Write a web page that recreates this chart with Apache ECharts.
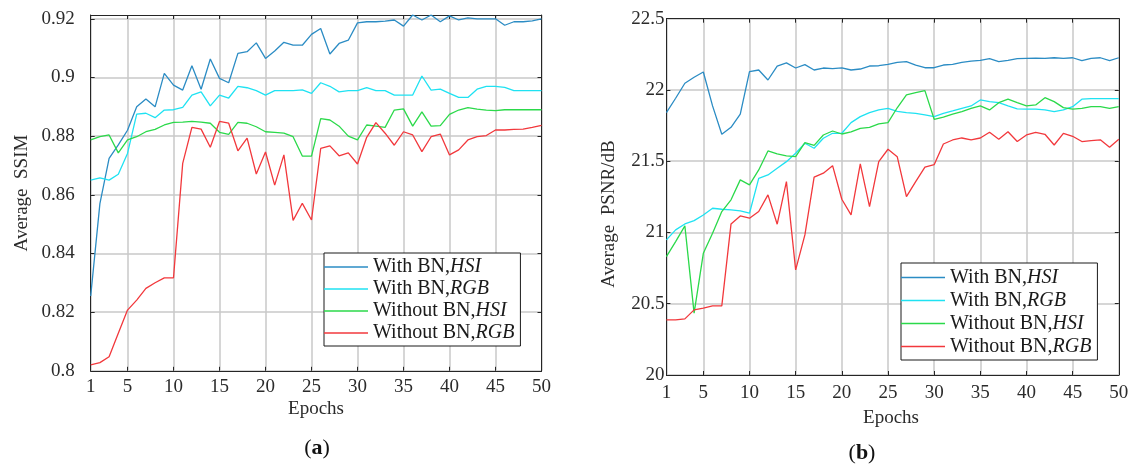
<!DOCTYPE html>
<html lang="en" style="height: 100%">
<head>
  <meta charset="utf-8">
</head>
<body style="height: 100%; margin: 0; background: #fff">
  <div id="container" style="width: 1136px; height: 464px"></div>

  <script type="text/javascript" src="https://cdn.jsdelivr.net/npm/echarts@6/dist/echarts.min.js"></script>
  <script type="text/javascript">
    // epochs and tick values
    var epochs = [];
    for (var e = 1; e <= 50; e++) epochs.push(e);
    var epochTicks = [1, 5, 10, 15, 20, 25, 30, 35, 40, 45, 50];
    var ssimTicks = [0.8, 0.82, 0.84, 0.86, 0.88, 0.9, 0.92];
    var psnrTicks = [20, 20.5, 21, 21.5, 22, 22.5];

    var seriesNames = ['With BN,HSI', 'With BN,RGB', 'Without BN,HSI', 'Without BN,RGB'];
    var seriesColors = ['#2b8cc4', '#1fe2f2', '#2bd94a', '#f2383c'];

    // (a) average SSIM
    var ssimBnHsi = [0.8255, 0.857, 0.8724, 0.877, 0.882, 0.890, 0.8927, 0.890, 0.9014, 0.8974,
      0.8957, 0.904, 0.896, 0.9063, 0.8997, 0.8982, 0.9082, 0.9088, 0.9118, 0.9065,
      0.909, 0.912, 0.911, 0.911, 0.9147, 0.9167, 0.908, 0.9116, 0.9127, 0.9186,
      0.919, 0.919, 0.9192, 0.9196, 0.9175, 0.9213, 0.9196, 0.9213, 0.919, 0.921,
      0.9196, 0.9203, 0.92, 0.92, 0.92, 0.9178, 0.919, 0.919, 0.9193, 0.920];
    var ssimBnRgb = [0.865, 0.8658, 0.865, 0.867, 0.8741, 0.8875, 0.8878, 0.8863, 0.8889, 0.889,
      0.8898, 0.894, 0.8951, 0.8903, 0.894, 0.893, 0.897, 0.8965, 0.8955, 0.894,
      0.8955, 0.8955, 0.8955, 0.8958, 0.8946, 0.8982, 0.897, 0.8951, 0.8955, 0.8955,
      0.8965, 0.8955, 0.8955, 0.894, 0.894, 0.894, 0.9005, 0.8957, 0.896, 0.8946,
      0.8932, 0.8932, 0.896, 0.897, 0.897, 0.8966, 0.8955, 0.8955, 0.8955, 0.8955];
    var ssimNoBnHsi = [0.8787, 0.8798, 0.8804, 0.8743, 0.8787, 0.8798, 0.8815, 0.8823, 0.8838, 0.8847,
      0.8848, 0.885, 0.8848, 0.8844, 0.8813, 0.8806, 0.8847, 0.8844, 0.8832, 0.8815,
      0.8813, 0.881, 0.8798, 0.8732, 0.8732, 0.886, 0.8855, 0.8834, 0.88, 0.8787,
      0.8838, 0.8834, 0.883, 0.8889, 0.8893, 0.8834, 0.8883, 0.8834, 0.8836, 0.8874,
      0.8889, 0.8897, 0.8892, 0.8889, 0.8887, 0.889, 0.889, 0.889, 0.889, 0.889];
    var ssimNoBnRgb = [0.802, 0.8028, 0.8048, 0.8128, 0.8207, 0.8241, 0.8281, 0.830, 0.8317, 0.8317,
      0.8707, 0.883, 0.8824, 0.8762, 0.885, 0.8844, 0.875, 0.8793, 0.8671, 0.8746,
      0.8633, 0.8736, 0.8513, 0.8571, 0.8514, 0.8758, 0.8767, 0.8733, 0.8743, 0.8705,
      0.8796, 0.8846, 0.881, 0.8769, 0.8815, 0.8804, 0.8747, 0.8798, 0.8807, 0.8736,
      0.8753, 0.8787, 0.8798, 0.8802, 0.8821, 0.8821, 0.8823, 0.8824, 0.883, 0.8837];

    // (b) average PSNR/dB
    var psnrBnHsi = [21.841, 21.942, 22.047, 22.089, 22.126, 21.888, 21.689, 21.738, 21.83, 22.128,
      22.14, 22.07, 22.168, 22.19, 22.154, 22.178, 22.14, 22.154, 22.15, 22.155,
      22.14, 22.147, 22.168, 22.17, 22.18, 22.194, 22.199, 22.175, 22.156, 22.156,
      22.175, 22.18, 22.194, 22.203, 22.208, 22.22, 22.199, 22.208, 22.22, 22.222,
      22.224, 22.222, 22.226, 22.222, 22.226, 22.206, 22.222, 22.226, 22.206, 22.226];
    var psnrBnRgb = [20.948, 21.018, 21.06, 21.083, 21.123, 21.17, 21.163, 21.158, 21.151, 21.135,
      21.38, 21.404, 21.451, 21.497, 21.556, 21.626, 21.591, 21.661, 21.696, 21.696,
      21.771, 21.813, 21.841, 21.86, 21.871, 21.85, 21.841, 21.836, 21.825, 21.813,
      21.836, 21.853, 21.871, 21.888, 21.93, 21.918, 21.911, 21.888, 21.867, 21.865,
      21.865, 21.86, 21.848, 21.86, 21.883, 21.935, 21.939, 21.939, 21.939, 21.939];
    var psnrNoBnHsi = [20.831, 20.936, 21.046, 20.434, 20.854, 20.995, 21.147, 21.229, 21.369, 21.334,
      21.439, 21.572, 21.551, 21.537, 21.532, 21.63, 21.611, 21.684, 21.712, 21.691,
      21.706, 21.731, 21.738, 21.762, 21.771, 21.875, 21.965, 21.981, 21.995, 21.794,
      21.81, 21.83, 21.848, 21.871, 21.888, 21.86, 21.911, 21.935, 21.911, 21.888,
      21.895, 21.946, 21.918, 21.876, 21.865, 21.871, 21.883, 21.883, 21.871, 21.883];
    var psnrNoBnRgb = [20.387, 20.387, 20.394, 20.457, 20.469, 20.485, 20.485, 21.06, 21.116, 21.1,
      21.147, 21.264, 21.058, 21.357, 20.738, 20.983, 21.388, 21.416, 21.469, 21.233,
      21.123, 21.481, 21.182, 21.497, 21.584, 21.532, 21.252, 21.357, 21.458, 21.476,
      21.621, 21.649, 21.663, 21.65, 21.663, 21.703, 21.654, 21.707, 21.638, 21.684,
      21.703, 21.689, 21.614, 21.696, 21.675, 21.638, 21.645, 21.65, 21.598, 21.654];

    var FONT = '"Liberation Serif", "DejaVu Serif", serif';
    var TXT = '#2b2b2b';

    var dom = document.getElementById('container');
    var myChart = echarts.init(dom, null, { renderer: 'canvas' });

    function pairs(vals) {
      return epochs.map(function (ep, i) { return [ep, vals[i]]; });
    }

    function xAxisFor(gridIndex, top) {
      return {
        type: 'value', gridIndex: gridIndex, position: top ? 'top' : 'bottom',
        min: 1, max: 50,
        axisLine: { show: true, onZero: false, lineStyle: { color: '#262626', width: 1 } },
        axisTick: { show: true, inside: true, length: 4, customValues: epochTicks, lineStyle: { color: '#262626' } },
        axisLabel: top ? { show: false } : {
          show: true, customValues: epochTicks, margin: gridIndex === 0 ? 7 : 9,
          fontFamily: FONT, fontSize: 19, color: TXT
        },
        splitLine: { show: !top, lineStyle: { color: '#c8c8c8', width: 1.5 } }
      };
    }

    function yAxisFor(gridIndex, right, min, max, ticks) {
      return {
        type: 'value', gridIndex: gridIndex, position: right ? 'right' : 'left',
        min: min, max: max,
        axisLine: { show: true, onZero: false, lineStyle: { color: '#262626', width: 1 } },
        axisTick: { show: true, inside: true, length: 4, customValues: ticks, lineStyle: { color: '#262626' } },
        axisLabel: right ? { show: false } : {
          show: true, customValues: ticks, margin: gridIndex === 0 ? 16 : 2,
          fontFamily: FONT, fontSize: 19, color: TXT
        },
        splitLine: { show: !right, lineStyle: { color: '#c8c8c8', width: 1.5 } }
      };
    }

    function lineSeries(name, color, vals, gi) {
      return {
        name: name, type: 'line', xAxisIndex: gi * 2, yAxisIndex: gi * 2,
        data: pairs(vals), symbol: 'none', animation: false,
        lineStyle: { color: color, width: 1.3 }, itemStyle: { color: color }
      };
    }

    function legendFor(left, top, lh) {
      return {
        orient: 'vertical', left: left, top: top, data: seriesNames,
        icon: 'rect', itemWidth: 44, itemHeight: 1.6, itemGap: 0,
        padding: [3, 6, 2, 0],
        borderColor: '#1a1a1a', borderWidth: 1, backgroundColor: '#fff',
        selectedMode: false,
        formatter: function (n) {
          var p = n.split(',');
          return p[0] + ',{i|' + p[1] + '}';
        },
        textStyle: {
          fontFamily: FONT, fontSize: 20, color: '#1a1a1a', lineHeight: lh,
          rich: { i: { fontFamily: FONT, fontSize: 20, fontStyle: 'italic', color: '#1a1a1a', lineHeight: lh } }
        }
      };
    }

    var ssimSets = [ssimBnHsi, ssimBnRgb, ssimNoBnHsi, ssimNoBnRgb];
    var psnrSets = [psnrBnHsi, psnrBnRgb, psnrNoBnHsi, psnrNoBnRgb];
    var series = [];
    seriesNames.forEach(function (n, i) { series.push(lineSeries(n, seriesColors[i], ssimSets[i], 0)); });
    seriesNames.forEach(function (n, i) { series.push(lineSeries(n, seriesColors[i], psnrSets[i], 1)); });

    var option = {
      backgroundColor: '#fff',
      animation: false,
      grid: [
        { left: 90.7, top: 15, width: 450.8, height: 355.8, containLabel: false },
        { left: 666.4, top: 18.7, width: 452.4, height: 356.3, containLabel: false }
      ],
      xAxis: [xAxisFor(0, false), xAxisFor(0, true), xAxisFor(1, false), xAxisFor(1, true)],
      yAxis: [
        yAxisFor(0, false, 0.8, 0.9213, ssimTicks), yAxisFor(0, true, 0.8, 0.9213, ssimTicks),
        yAxisFor(1, false, 20, 22.5, psnrTicks), yAxisFor(1, true, 20, 22.5, psnrTicks)
      ],
      legend: [legendFor(324, 253, 22), legendFor(901, 263, 23)],
      graphic: [
        { type: 'text', x: 22, y: 193, rotation: Math.PI / 2,
          style: { text: 'Average  SSIM', font: '19px ' + FONT, fill: TXT, textAlign: 'center', textVerticalAlign: 'middle' } },
        { type: 'text', x: 609, y: 214, rotation: Math.PI / 2,
          style: { text: 'Average  PSNR/dB', font: '19px ' + FONT, fill: TXT, textAlign: 'center', textVerticalAlign: 'middle' } },
        { type: 'text', x: 316, y: 409,
          style: { text: 'Epochs', font: '19px ' + FONT, fill: TXT, textAlign: 'center', textVerticalAlign: 'middle' } },
        { type: 'text', x: 891, y: 418,
          style: { text: 'Epochs', font: '19px ' + FONT, fill: TXT, textAlign: 'center', textVerticalAlign: 'middle' } },
        { type: 'text', x: 317, y: 448,
          style: { text: '({b|a})', font: '22px ' + FONT, fill: '#111', textAlign: 'center', textVerticalAlign: 'middle',
            rich: { b: { fontWeight: 'bold', fontSize: 22, fontFamily: FONT, fill: '#111' } } } },
        { type: 'text', x: 862, y: 453,
          style: { text: '({b|b})', font: '22px ' + FONT, fill: '#111', textAlign: 'center', textVerticalAlign: 'middle',
            rich: { b: { fontWeight: 'bold', fontSize: 22, fontFamily: FONT, fill: '#111' } } } }
      ],
      series: series
    };

    myChart.setOption(option);
    window.addEventListener('resize', myChart.resize);
  </script>
</body>
</html>
